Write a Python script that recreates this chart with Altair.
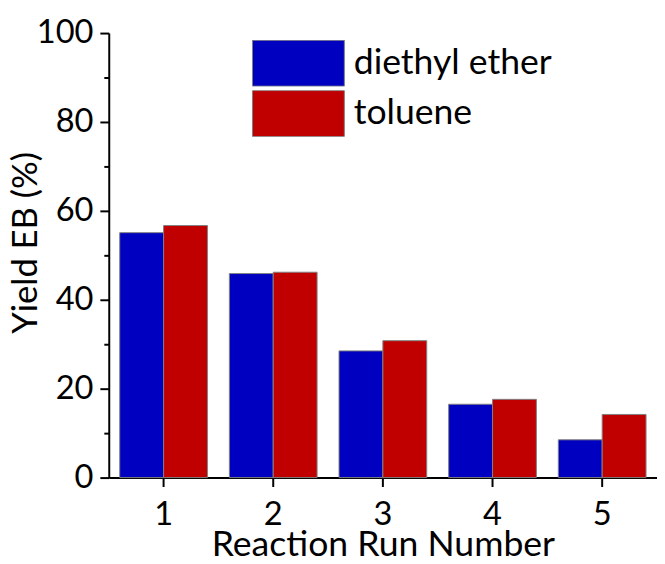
import altair as alt
import pandas as pd

runs = ["1", "2", "3", "4", "5"]
solvents = ["diethyl ether", "toluene"]
ether_yield = [55.1, 45.9, 28.5, 16.5, 8.5]
toluene_yield = [56.7, 46.2, 30.8, 17.6, 14.2]
colors = ["#0000C0", "#C00000"]
y_ticks = [0, 10, 20, 30, 40, 50, 60, 70, 80, 90, 100]

rows = []
for r, a, b in zip(runs, ether_yield, toluene_yield):
    rows.append({"run": r, "solvent": solvents[0], "yield": a})
    rows.append({"run": r, "solvent": solvents[1], "yield": b})
df = pd.DataFrame(rows)

FONT = "Lato"

chart = alt.Chart(df).mark_bar(stroke="#808080", strokeWidth=1).encode(
    x=alt.X("run:N", sort=runs,
            scale=alt.Scale(paddingInner=0.2, paddingOuter=0.1),
            axis=alt.Axis(title="Reaction Run Number", labelAngle=0,
                          labelFontSize=33, titleFontSize=36,
                          labelPadding=12,
                          titleY=79, titleBaseline="alphabetic",
                          tickSize=9)),
    xOffset=alt.XOffset("solvent:N", sort=solvents),
    y=alt.Y("yield:Q", scale=alt.Scale(domain=[0, 100], nice=False),
            axis=alt.Axis(title="Yield EB (%)", values=y_ticks,
                          labelExpr="datum.value % 20 === 0 ? datum.label : ''",
                          tickSize={"condition": {"test": "datum.value % 20 === 0", "value": 9}, "value": 5},
                          labelFontSize=33, titleFontSize=35,
                          labelPadding=7,
                          titleX=-73, titleY=212, titleAngle=270,
                          titleAlign="center", titleBaseline="alphabetic")),
    color=alt.Color("solvent:N", sort=solvents,
                    scale=alt.Scale(domain=solvents, range=colors),
                    legend=alt.Legend(title=None, orient="none",
                                      legendX=145, legendY=7,
                                      symbolType="M-1,-0.5H1V0.5H-1Z",
                                      symbolSize=8649, clipHeight=47,
                                      symbolStrokeColor="#808080",
                                      symbolStrokeWidth=1,
                                      symbolOpacity=1,
                                      rowPadding=4, labelOffset=9,
                                      labelFontSize=36, labelLimit=400,
                                      padding=0)),
).properties(
    width=555, height=450,
    autosize=alt.AutoSizeParams(type="none"),
    padding={"left": 102, "top": 22, "right": 0, "bottom": 76},
).configure(
    font=FONT,
).configure_axis(
    labelFont=FONT, titleFont=FONT,
    labelColor="black", titleColor="black",
    titleFontWeight="normal",
    domainColor="black", domainWidth=2,
    tickColor="black", tickWidth=2,
    grid=False,
).configure_legend(
    labelFont=FONT, labelColor="black",
).configure_view(stroke=None)

chart.save("out.html", embed_options={"renderer": "svg", "actions": False})
